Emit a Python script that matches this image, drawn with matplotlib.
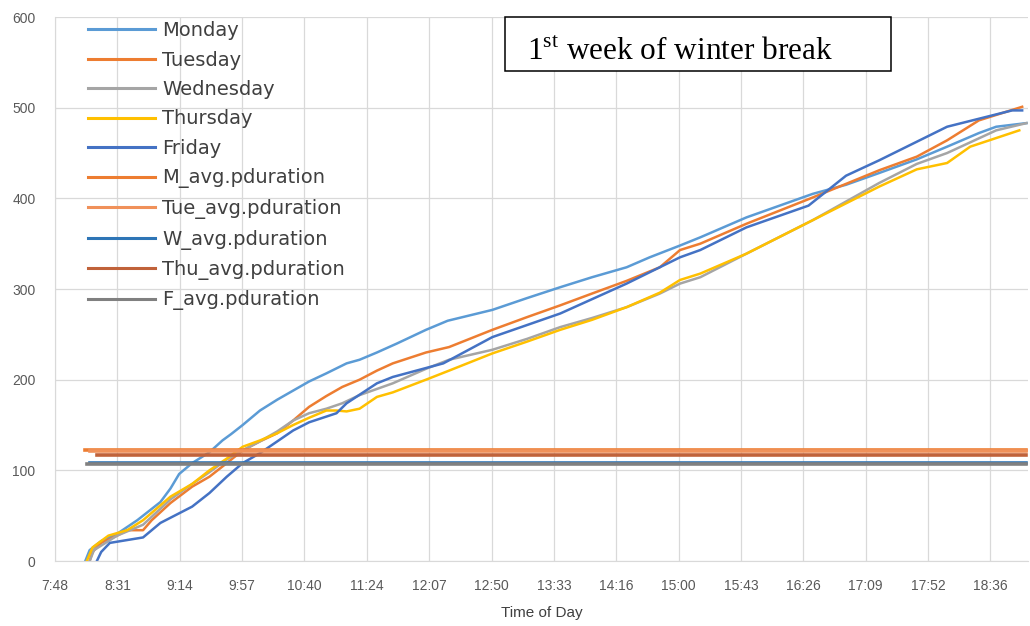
import matplotlib
matplotlib.use("Agg")
import matplotlib.pyplot as plt
from matplotlib.patches import Rectangle

plt.rcParams['mathtext.fontset'] = 'custom'
plt.rcParams['mathtext.rm'] = 'Liberation Serif'


def to_min(t):
    h, m = t.split(":")
    return int(h) * 60 + int(m)


# cumulative curves (time of day, value)
mon_t = ["8:09", "8:12", "8:20", "8:31", "8:45", "9:01", "9:08", "9:14", "9:23", "9:35",
         "9:44", "9:50", "9:58", "10:10", "10:22", "10:33", "10:44", "10:56", "11:10", "11:19",
         "11:31", "11:45", "12:05", "12:20", "12:51", "13:15", "13:38", "14:00", "14:24", "14:40",
         "15:01", "15:15", "15:47", "16:33", "16:56", "17:19", "17:45", "18:06", "18:28", "18:40", "19:01"]
mon_v = [0, 12, 22, 30, 45, 65, 80, 96, 108, 120,
         133, 140, 150, 166, 178, 188, 198, 207, 218, 222,
         230, 240, 255, 265, 277, 290, 302, 313, 324, 335,
         348, 357, 379, 405, 415, 428, 443, 457, 472, 479, 483]

tue_t = ["8:12", "8:14", "8:20", "8:31", "8:38", "8:49", "8:55", "9:08", "9:23", "9:35",
         "9:47", "9:58", "10:10", "10:22", "10:33", "10:44", "10:56", "11:07", "11:19", "11:31",
         "11:42", "12:05", "12:21", "12:51", "13:15", "13:38", "14:00", "14:24", "14:47", "15:01",
         "15:15", "15:47", "16:33", "17:19", "17:45", "18:06", "18:28", "18:58"]
tue_v = [0, 10, 20, 28, 34, 34, 45, 64, 82, 93,
         108, 122, 132, 141, 155, 170, 182, 192, 200, 210,
         218, 230, 236, 255, 269, 282, 295, 309, 324, 343,
         350, 372, 401, 431, 446, 464, 486, 501]

wed_t = ["8:12", "8:15", "8:31", "8:49", "9:08", "9:23", "9:35", "9:47", "9:58", "10:10",
         "10:22", "10:33", "10:44", "10:56", "11:07", "11:19", "11:42", "12:05", "12:21", "12:51",
         "13:15", "13:38", "14:00", "14:24", "14:47", "15:01", "15:15", "15:47", "16:33", "17:19",
         "17:45", "18:06", "18:40", "19:01"]
wed_v = [0, 12, 28, 40, 68, 85, 98, 112, 122, 132,
         143, 155, 163, 168, 174, 183, 196, 212, 222, 233,
         245, 258, 268, 280, 295, 306, 313, 339, 376, 417,
         438, 450, 475, 483]

thu_t = ["8:10", "8:14", "8:25", "8:38", "8:49", "9:08", "9:23", "9:35", "9:47", "9:58",
         "10:10", "10:22", "10:33", "10:44", "10:56", "11:03", "11:10", "11:19", "11:31", "11:42",
         "12:05", "12:21", "12:51", "13:15", "13:38", "14:00", "14:24", "14:47", "15:01", "15:15",
         "15:47", "16:33", "17:19", "17:45", "18:06", "18:22", "18:56"]
thu_v = [0, 15, 28, 34, 45, 71, 85, 100, 113, 126,
         133, 141, 150, 158, 166, 166, 165, 168, 181, 186,
         200, 210, 229, 242, 255, 266, 280, 296, 310, 317,
         339, 376, 413, 432, 439, 457, 475]

fri_t = ["8:17", "8:20", "8:26", "8:49", "9:01", "9:23", "9:35", "9:47", "9:58", "10:10",
         "10:22", "10:33", "10:44", "11:03", "11:10", "11:31", "11:42", "12:17", "12:51", "13:38",
         "14:24", "15:01", "15:15", "15:47", "16:30", "16:56", "17:19", "18:06", "18:51", "18:58"]
fri_v = [0, 10, 20, 26, 42, 60, 75, 93, 108, 119,
         132, 144, 153, 163, 174, 196, 203, 218, 247, 273,
         306, 335, 343, 368, 392, 425, 442, 479, 497, 497]

# average lines: label, value, start, end
avg_names = ["M_avg.pduration", "Tue_avg.pduration", "W_avg.pduration", "Thu_avg.pduration", "F_avg.pduration"]
avg_vals = [123, 121, 108, 117, 107]
avg_start = ["8:09", "8:12", "8:12", "8:17", "8:10"]
avg_end = "19:01"

days = ["Monday", "Tuesday", "Wednesday", "Thursday", "Friday"]
day_colors = ["#5B9BD5", "#ED7D31", "#A5A5A5", "#FFC000", "#4472C4"]
avg_colors = ["#ED7D31", "#F0915A", "#2E75B6", "#C0623A", "#808080"]

tick_labels = ["7:48", "8:31", "9:14", "9:57", "10:40", "11:24", "12:07", "12:50", "13:33",
               "14:16", "15:00", "15:43", "16:26", "17:09", "17:52", "18:36"]

fig = plt.figure(figsize=(10.3, 6.26), dpi=100)
ax = fig.add_axes([0.0534, 0.1038, 0.9446, 0.869])

series = [(mon_t, mon_v), (tue_t, tue_v), (wed_t, wed_v), (thu_t, thu_v), (fri_t, fri_v)]
for (t, v), name, c in zip(series, days, day_colors):
    ax.plot([to_min(s) for s in t], v, color=c, linewidth=1.8, label=name)

for name, val, st, c in zip(avg_names, avg_vals, avg_start, avg_colors):
    ax.plot([to_min(st), to_min(avg_end)], [val, val], color=c, linewidth=2.6, label=name)

# Excel style date axis: ticks every 0.03 day (43.2 min) from 7:48
ticks = [468 + 43.2 * i for i in range(len(tick_labels))]
ax.set_xticks(ticks)
ax.set_xticklabels(tick_labels)
ax.set_xlim(468, 1142)
ax.set_ylim(0, 600)
ax.set_yticks(range(0, 601, 100))

for lab in ax.get_xticklabels() + ax.get_yticklabels():
    lab.set_family("Liberation Sans")
    lab.set_fontsize(10)
    lab.set_color("#595959")
ax.tick_params(length=0)
ax.tick_params(axis="x", pad=13)
ax.tick_params(axis="y", pad=14)

ax.grid(True, color="#D9D9D9", linewidth=0.9)
ax.set_axisbelow(True)
for side in ["top", "right"]:
    ax.spines[side].set_visible(False)
for side in ["left", "bottom"]:
    ax.spines[side].set_color("#D9D9D9")

ax.set_xlabel("Time of Day", family="Liberation Sans", fontsize=11, color="#404040", labelpad=9)

leg = ax.legend(loc="upper left", bbox_to_anchor=(88 / 1030, 1 - 21 / 626), bbox_transform=fig.transFigure,
                frameon=False, fontsize=14, handlelength=3.45, handletextpad=0.35,
                labelspacing=0.54, borderpad=0, borderaxespad=0)
for txt in leg.get_texts():
    txt.set_color("#404040")
for h in leg.get_lines():
    h.set_linewidth(2.2)

fig.patches.append(Rectangle((505 / 1030, 1 - 71 / 626), 386 / 1030, 54 / 626,
                             transform=fig.transFigure, fill=True, facecolor="white",
                             edgecolor="black", linewidth=1.1))
fig.text(527 / 1030, 1 - 60 / 626, r"1$^{\mathrm{st}}$ week of winter break",
         family="Liberation Serif", fontsize=22.5, color="black", va="baseline")

fig.savefig("out.png", dpi=100)
